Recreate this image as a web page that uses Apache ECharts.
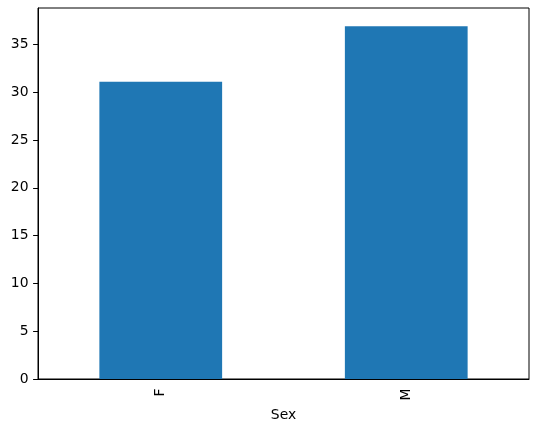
<!DOCTYPE html>
<html><head><meta charset="utf-8">
<script src="https://cdn.jsdelivr.net/npm/echarts@6/dist/echarts.min.js"></script>
<style>html,body{margin:0;padding:0;background:#fff}#c{width:543px;height:430px}</style>
</head><body><div id="c"></div>
<script>
const categories = ['F', 'M'];
const values = [31.1, 36.9];
const yTicks = [0, 5, 10, 15, 20, 25, 30, 35];

const chart = echarts.init(document.getElementById('c'), null, {renderer: 'canvas'});
const font = 'DejaVu Sans';
chart.setOption({
  animation: false,
  grid: {left: 38, right: 14, top: 8, bottom: 51, show: true, borderColor: '#000', borderWidth: 1, backgroundColor: 'transparent'},
  xAxis: {
    type: 'category', data: categories,
    name: 'Sex', nameLocation: 'middle', nameGap: 26,
    nameTextStyle: {fontFamily: font, fontSize: 13.9, color: '#000'},
    axisLine: {lineStyle: {color: '#000', width: 1}},
    axisTick: {alignWithLabel: true, length: 4.9, lineStyle: {color: '#000'}},
    axisLabel: {rotate: 90, margin: 9.5, fontFamily: font, fontSize: 13.9, color: '#000'},
    splitLine: {show: false}
  },
  yAxis: {
    type: 'value', min: 0, max: 38.8, interval: 5,
    axisLine: {show: true, lineStyle: {color: '#000', width: 1}},
    axisTick: {show: true, length: 4.9, customValues: yTicks, lineStyle: {color: '#000'}},
    axisLabel: {margin: 9.5, fontFamily: font, fontSize: 13.9, color: '#000', customValues: yTicks},
    splitLine: {show: false}
  },
  series: [{
    type: 'bar', data: values, barWidth: '50%',
    itemStyle: {color: '#1f77b4'}
  }]
});
</script></body></html>
